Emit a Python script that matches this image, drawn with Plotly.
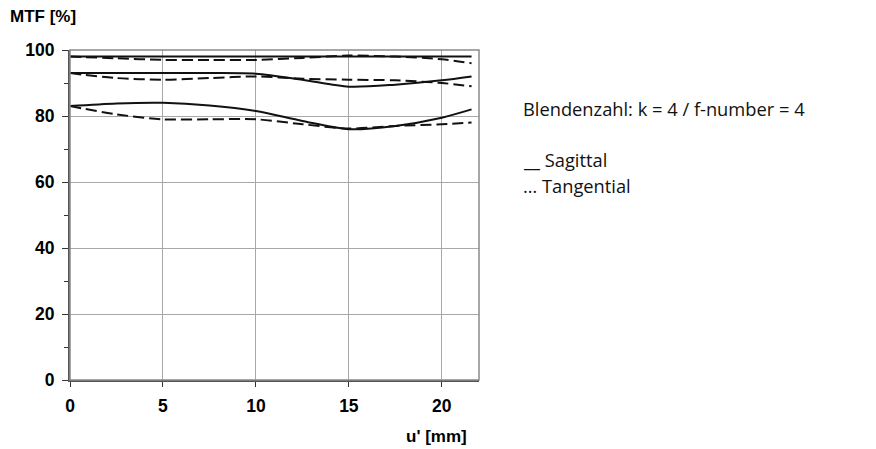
import plotly.graph_objects as go

u = [0, 2.5, 5, 7.5, 10, 12.5, 15, 17.5, 20, 21.6]

sag_1 = [98, 98, 98, 98, 98, 98, 98, 98, 98, 98]
tan_1 = [98, 97.5, 97, 97, 97, 97.6, 98.3, 98, 97.2, 96]
sag_2 = [93, 93, 93, 93, 92.8, 91, 88.9, 89.5, 90.8, 92]
tan_2 = [93, 91.5, 91, 91.5, 92, 91.3, 91, 90.8, 90, 89]
sag_3 = [83, 83.8, 84, 83.2, 81.5, 78.5, 76, 77, 79.5, 82]
tan_3 = [83, 80.5, 79, 79, 79, 77.5, 76.2, 77, 77.5, 78]

x_ticks = [0, 5, 10, 15, 20]
y_ticks = [0, 20, 40, 60, 80, 100]
y_minor = [10, 30, 50, 70, 90]

series = [(sag_1, "solid"), (tan_1, "dash"), (sag_2, "solid"),
          (tan_2, "dash"), (sag_3, "solid"), (tan_3, "dash")]

fig = go.Figure()
for vals, dash in series:
    fig.add_trace(go.Scatter(
        x=u, y=vals, mode="lines",
        line=dict(color="#111111", width=2,
                  dash="solid" if dash == "solid" else "11px,5px",
                  shape="spline", smoothing=0.8),
        showlegend=False, hoverinfo="skip"))

tickfont = dict(family="Liberation Sans, Arial", size=17.5, color="#000000", weight="bold")
fig.update_xaxes(
    range=[0, 22], tickvals=x_ticks, ticks="outside", ticklen=5,
    tickcolor="#333333", tickfont=tickfont, showgrid=True, gridcolor="#a8a8a8",
    gridwidth=1, showline=True, linecolor="#555555", linewidth=2,
    zeroline=False, ticklabelstandoff=4)
fig.update_yaxes(
    range=[0, 100], tickvals=y_ticks, ticks="outside", ticklen=6,
    tickcolor="#333333", tickfont=tickfont, showgrid=True, gridcolor="#a8a8a8",
    gridwidth=1, showline=True, linecolor="#555555", linewidth=2, zeroline=False,
    ticklabelstandoff=4,
    minor=dict(tickvals=y_minor, ticks="outside", ticklen=4,
               tickcolor="#333333", showgrid=False))

# top / right border of the plot area
fig.add_shape(type="rect", xref="paper", yref="paper", x0=0, y0=0, x1=1, y1=1,
              line=dict(color="#8a8a8a", width=1.5), layer="above")

labfont = dict(family="Liberation Sans, Arial", size=17, color="#000")
fig.add_annotation(text="<b>MTF [%]</b>", xref="paper", yref="paper",
                   x=-61/409, y=1 + 33/330, xanchor="left", yanchor="middle",
                   showarrow=False, font=labfont, borderpad=0)
fig.add_annotation(text="<b>u' [mm]</b>", xref="paper", yref="paper",
                   x=(469-70)/409, y=-56/330, xanchor="right", yanchor="middle",
                   showarrow=False, font=labfont)

txtfont = dict(family="Open Sans, Noto Sans", size=18.3, color="#111111")
for t, yy in [("Blendenzahl: k = 4 / f-number = 4", 108),
              ("__ Sagittal", 159), ("… Tangential", 185)]:
    fig.add_annotation(text=t, xref="paper", yref="paper",
                       x=(521-70)/409, y=(380-yy)/330, xanchor="left", yanchor="middle",
                       showarrow=False, font=txtfont)

fig.update_layout(
    width=868, height=441,
    margin=dict(l=62, r=397, t=42, b=69),
    plot_bgcolor="#ffffff", paper_bgcolor="#ffffff")

fig.write_html("out.html")
